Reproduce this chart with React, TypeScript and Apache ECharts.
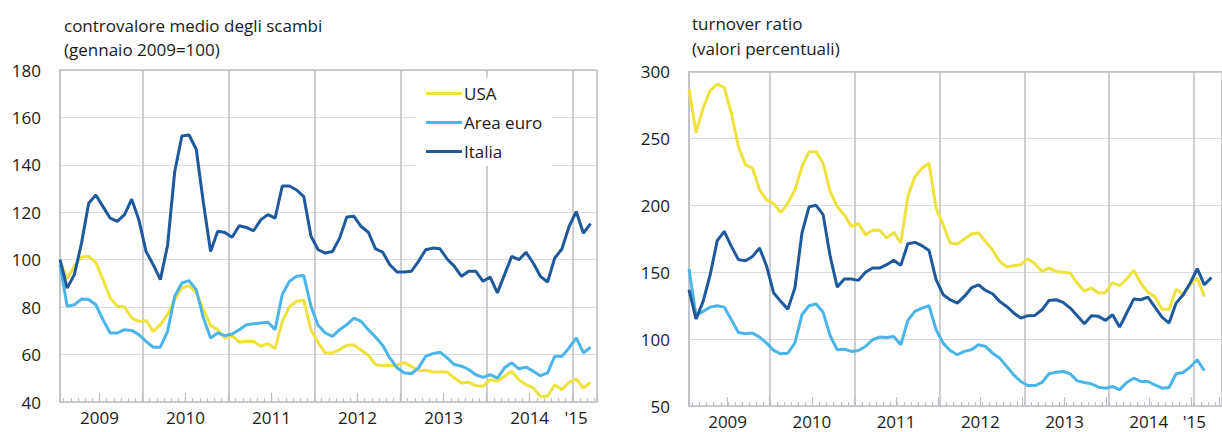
import { useEffect, useRef } from 'react';
import * as echarts from 'echarts';

// Monthly observations, Jan 2009 onwards
const monthsLeft = [
  '2009-01','2009-02','2009-03','2009-04','2009-05','2009-06','2009-07','2009-08','2009-09','2009-10','2009-11','2009-12',
  '2010-01','2010-02','2010-03','2010-04','2010-05','2010-06','2010-07','2010-08','2010-09','2010-10','2010-11','2010-12',
  '2011-01','2011-02','2011-03','2011-04','2011-05','2011-06','2011-07','2011-08','2011-09','2011-10','2011-11','2011-12',
  '2012-01','2012-02','2012-03','2012-04','2012-05','2012-06','2012-07','2012-08','2012-09','2012-10','2012-11','2012-12',
  '2013-01','2013-02','2013-03','2013-04','2013-05','2013-06','2013-07','2013-08','2013-09','2013-10','2013-11','2013-12',
  '2014-01','2014-02','2014-03','2014-04','2014-05','2014-06','2014-07','2014-08','2014-09','2014-10','2014-11','2014-12',
  '2015-01','2015-02','2015-03',
];

const yearLabels = ['2009', '2010', '2011', '2012', '2013', '2014', "'15"];

// Left panel: controvalore medio degli scambi (gennaio 2009=100)
const usaValue = [
  99.3, 92, 97.2, 101.1, 101.4, 98.9, 91.6, 83.9, 80.4, 80.1,
  75.4, 74, 74.3, 69.8, 72.6, 76.8, 83.2, 88.1, 89, 86,
  79, 72.2, 70.5, 67, 68.1, 65.2, 65.6, 65.5, 63.5, 64.6,
  62.5, 74, 80.1, 82.5, 82.9, 70.5, 65, 60.7, 60.7, 62.1,
  63.9, 64, 61.8, 59.7, 55.8, 55.3, 55.4, 55.4, 56.7, 55,
  53.2, 53.4, 52.7, 52.7, 52.6, 50.1, 48, 48.3, 46.9, 46.6,
  49.4, 48.8, 50.9, 53, 49.4, 47.3, 45.9, 42.4, 42.4, 47.3,
  45.2, 48.3, 49.7, 45.9, 48.3,
];
const euroValue = [
  97.9, 80.4, 81, 83.4, 83.2, 81, 74.7, 69.1, 69.1, 70.5,
  70.2, 68.4, 65.6, 63.1, 63.1, 69.8, 84.6, 90.2, 91.2, 87.4,
  75.4, 67, 69.1, 68, 68.7, 70.5, 72.6, 73, 73.3, 73.6,
  70.5, 85.3, 90.9, 93, 93.3, 80.4, 72.4, 69.1, 67.7, 70.5,
  72.6, 75.4, 74, 70.5, 67.4, 63.9, 58.6, 54.4, 52.3, 51.9,
  54.4, 59.3, 60.4, 61, 58.6, 55.8, 55.1, 53.7, 51.5, 50.4,
  51.5, 50.1, 54.4, 56.5, 54, 54.7, 53, 51.1, 52.3, 59.3,
  59.3, 62.8, 67, 60.7, 63.1,
];
const italiaValue = [
  100, 88, 93.7, 107, 123.8, 127.3, 122.4, 117.5, 116.2, 119,
  125.5, 116.8, 103.5, 97.9, 91.6, 106, 137.2, 152.2, 152.6, 146.6,
  124, 103.5, 112, 111.5, 109.5, 114.3, 113.6, 112.2, 116.8, 119,
  117.5, 131.1, 131.1, 129.4, 126.6, 110, 104.2, 102.8, 103.5, 109.1,
  118, 118.3, 114, 111.6, 104.6, 103.2, 97.9, 94.8, 94.8, 95.1,
  99.3, 104.2, 104.9, 104.6, 100.3, 97.2, 93, 95.1, 95.1, 90.9,
  92.7, 86, 93.7, 101.4, 100, 103.1, 98.6, 93, 90.6, 100.7,
  104.5, 114, 120.3, 111.2, 115.2,
];

// Right panel: turnover ratio (valori percentuali)
const usaTurnover = [
  286.8, 254.4, 272.6, 285.8, 290.5, 288, 268.8, 243.9, 230.2, 227.7,
  211.5, 204, 201.5, 194.5, 201.5, 211.5, 228.9, 240.1, 240.1, 231.4,
  210.2, 199, 192.8, 184.3, 186.3, 178, 181.3, 181.3, 175.6, 179.8,
  171.8, 206.5, 221.4, 227.7, 231.4, 198, 185.5, 171.8, 171, 174.8,
  178.6, 179.3, 173, 166.8, 158.1, 153.9, 154.9, 155.6, 159.9, 156.4,
  150.6, 153.1, 150.6, 149.9, 149.4, 141.9, 135.8, 138.2, 134.4, 134.9,
  142.3, 139.9, 144.9, 151.4, 141.9, 134.9, 131.9, 122.4, 122.4, 137.3,
  133.2, 140.6, 145.6, 131.9,
];
const euroTurnover = [
  152.4, 117.5, 120.7, 123.9, 124.9, 123.9, 114.5, 105, 104, 104.5,
  101.5, 97, 91.5, 89, 89.5, 97, 118.2, 124.9, 126.2, 120,
  102.5, 92, 92.5, 90.8, 91.5, 94.5, 99.5, 101.5, 101.2, 102,
  95.8, 114, 120.7, 123.2, 124.9, 107, 97, 91.5, 88.3, 90.8,
  92, 95.8, 94.5, 89.5, 85.8, 79.6, 73.3, 68.3, 65.3, 65.3,
  67.6, 74.1, 75.3, 75.8, 74.1, 68.8, 67.6, 66.6, 64.1, 63.3,
  64.6, 62.1, 67.6, 70.8, 68.3, 68.3, 65.8, 63.3, 63.8, 74.1,
  75.1, 79.1, 84.6, 76.3,
];
const italiaTurnover = [
  136.9, 115, 128.2, 148.1, 173.6, 180.5, 169.3, 159.4, 158.6, 161.8,
  168.1, 154.4, 134.4, 128.2, 122.4, 138.2, 179.3, 198.8, 200, 193,
  161.8, 138.9, 144.9, 144.9, 143.9, 149.9, 153.1, 153.1, 155.6, 158.9,
  155.1, 171.3, 172.3, 169.8, 166.3, 144.4, 133.2, 129.4, 126.9, 131.9,
  138.2, 140.6, 136.4, 133.9, 128.2, 124.4, 119.5, 115.7, 117.5, 117.7,
  121.9, 128.9, 129.4, 127.4, 123.2, 117.5, 111.5, 117.5, 117, 114,
  118.2, 109, 119.5, 129.9, 129.4, 131.4, 123.9, 116.5, 112, 126.9,
  133.2, 141.9, 152.6, 140.6, 146,
];

const seriesNames = ['USA', 'Area euro', 'Italia'];

const C_USA = '#EEE23C';
const C_EURO = '#4CB5E7';
const C_ITA = '#1E5A9B';
const V_GRID = '#BEBFC4';
const H_GRID = '#DCDCDC';
const TEXT = '#1A1A1A';
const FONT = "'Open Sans', 'Noto Sans', sans-serif";
const FS = 17;

// month index -> x position (month i centred at i + 0.5, month boundaries on integers)
const toPairs = (vals: number[]) => vals.map((v, i) => [i + 0.5, v]);

function xAxesFor(gridData: number, gridOverlay: number, max: number) {
  return [
    {
      gridIndex: gridData, type: 'value', position: 'bottom', min: 0.5, max,
      minInterval: 1, maxInterval: 1, splitNumber: 80,
      axisLine: { show: true, onZero: false, lineStyle: { color: V_GRID, width: 1.5 } },
      axisTick: { show: true, inside: true, length: 4, lineStyle: { color: V_GRID, width: 1.2 } },
      axisLabel: { show: false }, splitLine: { show: false },
    },
    {
      gridIndex: gridData, type: 'value', position: 'top', min: 0.5, max,
      minInterval: 12, maxInterval: 12, splitNumber: 6,
      axisLine: { show: true, onZero: false, lineStyle: { color: V_GRID, width: 1.5 } },
      axisTick: { show: false }, axisLabel: { show: false },
      splitLine: { show: true, lineStyle: { color: V_GRID, width: 1.5 } },
    },
    {
      gridIndex: gridOverlay, type: 'value', position: 'bottom', min: 0.5 - 6, max: max - 6,
      minInterval: 6, maxInterval: 6, splitNumber: 12,
      axisLine: { show: false, onZero: false },
      axisTick: { show: true, inside: true, length: 9, lineStyle: { color: V_GRID, width: 1.2 } },
      splitLine: { show: false },
      axisLabel: {
        show: true, fontSize: FS, color: TEXT, fontFamily: FONT, margin: 7,
        formatter: (v: number) => {
          if (Math.abs(v - Math.round(v)) > 1e-6) return '';
          const r = Math.round(v);
          if (r % 12 === 0 && r / 12 < yearLabels.length - 1) return yearLabels[r / 12];
          if (r === (yearLabels.length - 1) * 12 - 6) return '{s|' + yearLabels[yearLabels.length - 1] + '}';
          return '';
        },
        rich: { s: { fontSize: FS, color: TEXT, fontFamily: FONT, padding: [0, 0, 0, 7] } },
      },
    },
  ];
}

function yAxisFor(gridIndex: number, min: number, max: number, interval: number) {
  return {
    gridIndex, type: 'value', min, max, interval,
    axisLine: { show: true, onZero: false, lineStyle: { color: V_GRID, width: 1.5 } },
    axisTick: { show: false },
    axisLabel: { fontSize: FS, color: TEXT, fontFamily: FONT, margin: 19 },
    splitLine: { show: true, lineStyle: { color: H_GRID, width: 1.2 } },
  };
}

function lineSeries(name: string, color: string, data: number[], xAxisIndex: number, yAxisIndex: number) {
  return {
    name, type: 'line', xAxisIndex, yAxisIndex, data: toPairs(data),
    showSymbol: false, symbol: 'none', color,
    lineStyle: { color, width: 3 }, itemStyle: { color },
    z: 3,
  };
}

export default function App() {
  const ref = useRef<HTMLDivElement>(null);
  useEffect(() => {
    if (!ref.current) return;
    const chart = echarts.init(ref.current, undefined, { renderer: 'svg' });
    const leftMax = 0.5 + 537 / 7.17;
    const rightMax = 76;
    chart.setOption({
      animation: false,
      backgroundColor: '#ffffff',
      textStyle: { fontFamily: FONT },
      title: [
        {
          text: 'controvalore medio degli scambi\n(gennaio 2009=100)',
          left: 64, top: 13, padding: 0,
          textStyle: { fontSize: FS, fontWeight: 'normal', color: TEXT, lineHeight: 24, fontFamily: FONT },
        },
        {
          text: 'turnover ratio\n(valori percentuali)',
          left: 692, top: 11, padding: 0,
          textStyle: { fontSize: FS, fontWeight: 'normal', color: TEXT, lineHeight: 25, fontFamily: FONT },
        },
      ],
      legend: {
        data: seriesNames, orient: 'vertical', left: 415, top: 78,
        itemWidth: 36, itemHeight: 3, itemGap: 12, icon: 'rect',
        backgroundColor: '#ffffff', padding: [7, 9, 6, 11],
        selectedMode: false,
        textStyle: { fontSize: FS, color: TEXT, fontFamily: FONT, padding: [0, 0, 0, -3] },
      },
      grid: [
        { left: 60, top: 70, width: 537, height: 332 },
        { left: 60, top: 70, width: 537, height: 332 },
        { left: 689, top: 71.5, width: (rightMax - 0.5) * 7.233, height: 334.5 },
        { left: 689, top: 71.5, width: (rightMax - 0.5) * 7.233, height: 334.5 },
      ],
      xAxis: [...xAxesFor(0, 1, leftMax), ...xAxesFor(2, 3, rightMax)],
      yAxis: [
        yAxisFor(0, 40, 180, 20),
        { gridIndex: 1, type: 'value', min: 0, max: 1, show: false },
        yAxisFor(2, 50, 300, 50),
        { gridIndex: 3, type: 'value', min: 0, max: 1, show: false },
      ],
      series: [
        lineSeries(seriesNames[0], C_USA, usaValue, 0, 0),
        lineSeries(seriesNames[1], C_EURO, euroValue, 0, 0),
        lineSeries(seriesNames[2], C_ITA, italiaValue, 0, 0),
        lineSeries(seriesNames[0], C_USA, usaTurnover, 3, 2),
        lineSeries(seriesNames[1], C_EURO, euroTurnover, 3, 2),
        lineSeries(seriesNames[2], C_ITA, italiaTurnover, 3, 2),
      ],
    });
    void monthsLeft;
    return () => chart.dispose();
  }, []);
  return (
    <div
      ref={ref}
      style={{ position: 'absolute', left: 0, top: 0, width: 1222, height: 432, background: '#fff' }}
    />
  );
}
